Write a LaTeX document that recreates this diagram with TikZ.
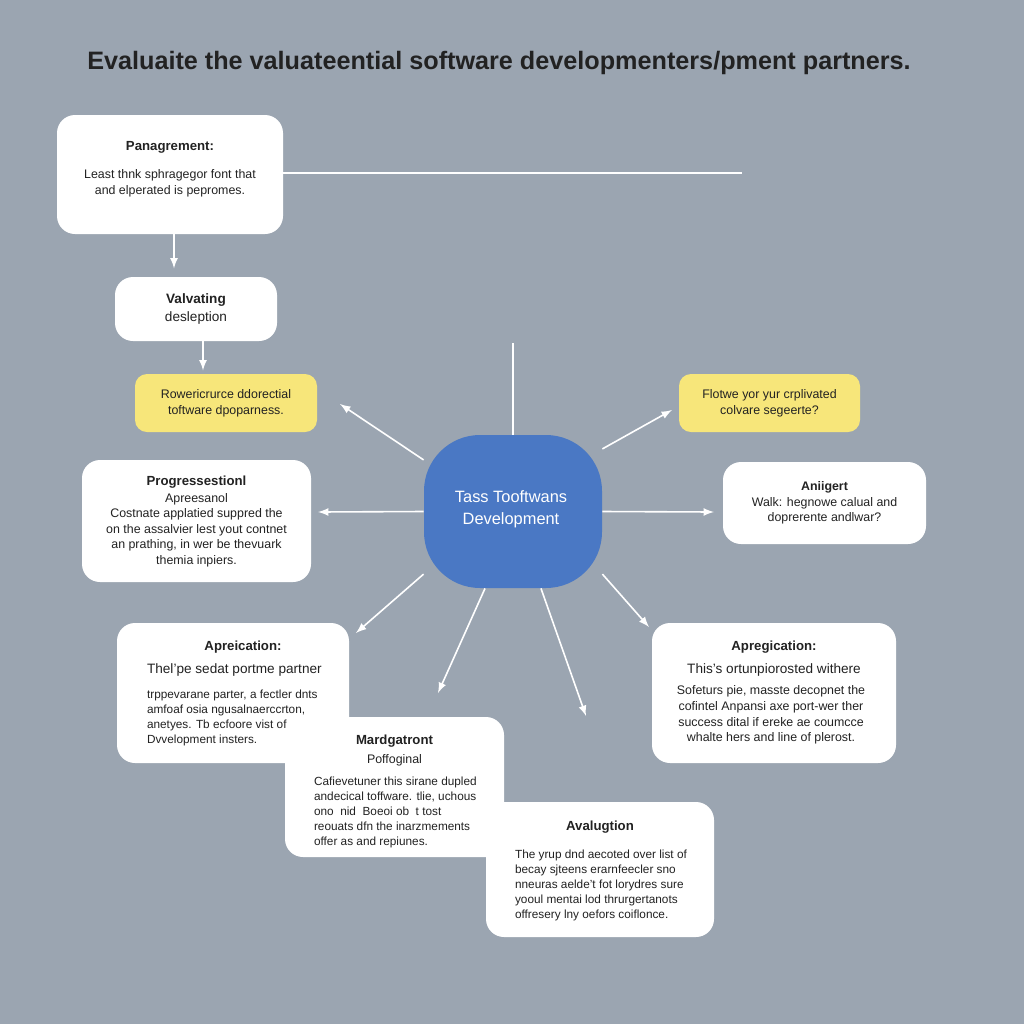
\documentclass[tikz,border=0pt]{standalone}
\usepackage{fontspec}
\setmainfont{Liberation Sans}
\usetikzlibrary{positioning}
\definecolor{bgcol}{HTML}{9BA5B1}
\definecolor{blobcol}{HTML}{4A78C4}
\definecolor{notecol}{HTML}{F7E67A}
\definecolor{inkcol}{HTML}{222222}
\tikzset{
  card/.style={draw=none,fill=white,rounded corners=9pt,inner sep=0pt},
  note/.style={card,fill=notecol,rounded corners=6pt},
  ttl/.style={font=\bfseries\fontsize{6.6}{8}\selectfont,text=inkcol},
  txt/.style={font=\fontsize{6.2}{7.8}\selectfont,text=inkcol,align=center},
  txl/.style={font=\fontsize{5.9}{7.5}\selectfont,text=inkcol,align=left},
  link/.style={draw=white,line width=0.8pt},
  arr/.style={link,-latex}
}
\begin{document}
\begin{tikzpicture}[x=0.5pt,y=-0.5pt]
\fill[bgcol] (0,0) rectangle (1024,1024);
\useasboundingbox (0,0) rectangle (1024,1024);
\node[font=\bfseries\fontsize{12.6}{14}\selectfont,text=inkcol] (head) at (499,63) {Evaluaite the valuateential software developmenters/pment partners.};

% left column
\node[card,minimum width=113pt,minimum height=59.5pt] (pan) at (170,174.5) {};
\node[ttl] at (170,147) {Panagrement:};
\node[txt] at (170,183) {Least thnk sphragegor font that\\and elperated is pepromes.};
\node[card,minimum width=81pt,minimum height=32pt] (val) at (196,309) {};
\node[txt,font=\fontsize{6.8}{9}\selectfont] at (196,309) {\textbf{Valvating}\\desleption};
\node[note,minimum width=91pt,minimum height=29pt] (yl) at (226,403) {};
\node[txt] at (226,403) {Rowericrurce ddorectial\\toftware dpoparness.};
\node[card,minimum width=114.5pt,minimum height=61pt] (pro) at (196.5,521) {};
\node[ttl] at (196.5,482) {Progressestionl};
\node[txt] at (196.5,530) {Apreesanol\\Costnate applatied suppred the\\on the assalvier lest yout contnet\\an prathing, in wer be thevuark\\themia inpiers.};

% centre
\node[draw=none,fill=blobcol,rounded corners=28pt,minimum width=89pt,minimum height=76.5pt] (core) at (513,511.5) {};
\node[txt,text=white,font=\fontsize{8.2}{11}\selectfont] at (511,509) {Tass Tooftwans\\Development};
\coordinate (top) at (513,343);

% right column
\node[note,minimum width=90.5pt,minimum height=29pt] (yr) at (769.5,403) {};
\node[txt] at (769.5,403) {Flotwe yor yur crplivated\\colvare segeerte?};
\node[card,minimum width=101.5pt,minimum height=41pt] (ani) at (824.5,503) {};
\node[txt] at (824.5,503) {\textbf{Aniigert}\\Walk: hegnowe calual and\\doprerente andlwar?};
\node[card,minimum width=122pt,minimum height=70pt] (apg) at (774,693) {};
\node[ttl] at (774,647) {Apregication:};
\node[txt,font=\fontsize{6.8}{8}\selectfont] at (774,670) {This's ortunpiorosted withere};
\node[txt] at (771,715) {Sofeturs pie, masste decopnet the\\cofintel Anpansi axe port-wer ther\\success dital if ereke ae coumcce\\whalte hers and line of plerost.};

% bottom cards
\node[card,minimum width=116pt,minimum height=70pt] (apr) at (233,693) {};
\node[ttl] at (243,647) {Apreication:};
\node[txt,font=\fontsize{6.8}{8}\selectfont,anchor=west] at (140,670) {Thel'pe sedat portme partner};
\node[txl,anchor=north west] at (140,683) {trppevarane parter, a fectler dnts\\amfoaf osia ngusalnaerccrton,\\anetyes. Tb ecfoore vist of\\Dvvelopment insters.};
\node[card,minimum width=109.5pt,minimum height=70pt] (mar) at (394.5,787) {};
\node[ttl] at (394.5,741) {Mardgatront};
\node[txt] at (394.5,760) {Poffoginal};
\node[txl,anchor=north west] at (307,770) {Cafievetuner this sirane dupled\\andecical toffware. tlie, uchous\\ono \ nid \ Boeoi ob \ t tost\\reouats dfn the inarzmements\\offer as and repiunes.};
\node[card,minimum width=114pt,minimum height=67.5pt] (ava) at (600,869.5) {};
\node[ttl] at (600,827) {Avalugtion};
\node[txl,anchor=north west] at (508,843) {The yrup dnd aecoted over list of\\becay sjteens erarnfeecler sno\\nneuras aelde't fot lorydres sure\\yooul mentai lod thrurgertanots\\offresery lny oefors coiflonce.};

% free ends
\coordinate (eA) at (742,173);
\coordinate (e1) at (340,404);
\coordinate (e2) at (672,410);
\coordinate (e3) at (318,512);
\coordinate (e4) at (714,512);
\coordinate (e5) at (356,633);
\coordinate (e6) at (438,693);
\coordinate (e7) at (586,716);
\coordinate (e8) at (649,627);

% connectors
\draw[link] (pan.east |- eA) -- (eA);
\draw[arr] (pan.south -| 174,0) -- ++(0,34);
\draw[arr] (val.south -| 203,0) -- ++(0,29);
\draw[link] (top) -- (core.north);
\draw[arr] (core.150) -- (e1);
\draw[arr] (core.35) -- (e2);
\draw[arr] (core.west) -- (e3);
\draw[arr] (core.east) -- (e4);
\draw[arr] (core.215) -- (e5);
\draw[arr] (core.250) -- (e6);
\draw[arr] (core.290) -- (e7);
\draw[arr] (core.325) -- (e8);
\end{tikzpicture}
\end{document}
